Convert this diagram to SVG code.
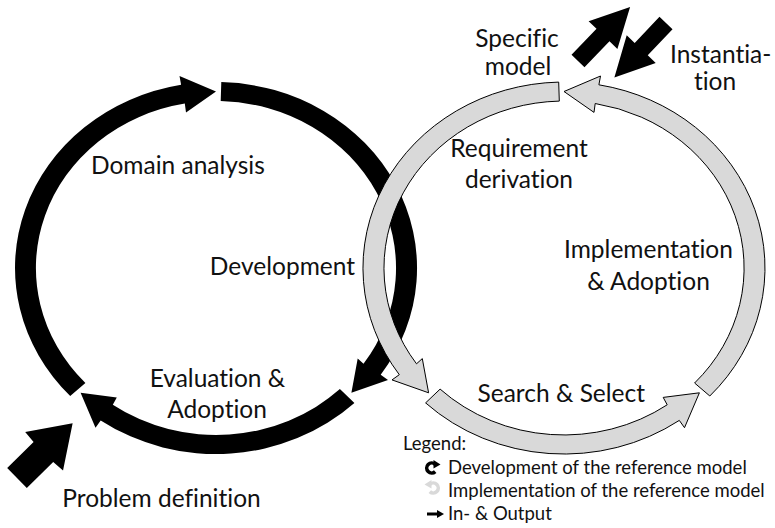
<svg xmlns="http://www.w3.org/2000/svg" width="775" height="528" viewBox="0 0 775 528">
  <style>
    .blk { fill: #000000; }
    .gry { fill: #d9d9d9; stroke: #000000; stroke-width: 1; stroke-linejoin: miter; }
    .lbl { font-family: Lato, "Liberation Sans", sans-serif; font-size: 24.5px; fill: #111111; font-variant-ligatures: none; }
    .mid { text-anchor: middle; }
    .leg { font-family: Lato, "Liberation Sans", sans-serif; font-size: 18.5px; fill: #111111; font-variant-ligatures: none; }
  </style>
  <defs>
    <path id="segA" d="M 70.2 396 A 201 186 0 0 1 181.1 84.8 L 179.5 76 L 216 91.5 L 186 112.4 L 184.8 103.5 A 180 167 0 0 0 85.4 383 Z"/>
    <path id="segB" d="M 221.3 82.1 A 201 186 0 0 1 380.7 374.7 L 388 379.9 L 351.4 392.8 L 357.7 358.6 L 363.5 363.8 A 180 167 0 0 0 220.7 101.1 Z"/>
    <path id="segC" d="M 354.4 402.9 A 201 186 0 0 1 100.7 420.4 L 95.5 427.7 L 80.6 392.8 L 116.8 397.4 L 112.8 404.8 A 180 167 0 0 0 339.9 389.1 Z"/>
    <polygon id="ioBig" points="0,-14 37,-14 38,-27 78,0 38,27 37,14 0,14"/>
    <polygon id="ioSmall" points="0,-9 36,-9 36,-20 75,0 36,20 36,9 0,9"/>
  </defs>

  <!-- Development cycle (black) -->
  <g id="development-cycle">
    <g id="dev-domain-analysis"><use href="#segA" class="blk"/></g>
    <g id="dev-development"><use href="#segB" class="blk"/></g>
    <g id="dev-evaluation"><use href="#segC" class="blk"/></g>
  </g>

  <!-- Implementation cycle (grey), mirror of the black one -->
  <g id="implementation-cycle" transform="matrix(-1 0 0 1 780 0)">
    <g id="impl-implementation"><use href="#segA" class="gry"/></g>
    <g id="impl-requirement"><use href="#segB" class="gry"/></g>
    <g id="impl-search"><use href="#segC" class="gry"/></g>
  </g>

  <!-- In/Output arrows -->
  <g id="io-arrows">
    <use href="#ioBig" class="blk" transform="translate(17,478) rotate(-44.5)"/>
    <use href="#ioSmall" class="blk" transform="translate(578,61) rotate(-46)"/>
    <use href="#ioSmall" class="blk" transform="translate(666,23) rotate(133.5)"/>
  </g>

  <!-- Labels -->
  <g id="labels">
    <g id="lbl-specific-model">
      <text class="lbl mid" x="517" y="47">Specific</text>
      <text class="lbl mid" x="518" y="75">model</text>
    </g>
    <g id="lbl-instantiation">
      <text class="lbl" x="670" y="63">Instantia-</text>
      <text class="lbl mid" x="715" y="90">tion</text>
    </g>
    <g id="lbl-domain-analysis"><text class="lbl" x="91" y="174">Domain analysis</text></g>
    <g id="lbl-development"><text class="lbl" x="355" y="275" text-anchor="end">Development</text></g>
    <g id="lbl-requirement">
      <text class="lbl mid" x="519" y="157">Requirement</text>
      <text class="lbl mid" x="519" y="188">derivation</text>
    </g>
    <g id="lbl-implementation">
      <text class="lbl mid" x="648.5" y="258">Implementation</text>
      <text class="lbl mid" x="648.5" y="290">&amp; Adoption</text>
    </g>
    <g id="lbl-evaluation">
      <text class="lbl mid" x="217.5" y="387">Evaluation &amp;</text>
      <text class="lbl mid" x="217" y="418">Adoption</text>
    </g>
    <g id="lbl-search"><text class="lbl" x="645" y="402" text-anchor="end">Search &amp; Select</text></g>
    <g id="lbl-problem"><text class="lbl mid" x="161.5" y="507">Problem definition</text></g>
  </g>

  <!-- Legend -->
  <g id="legend">
    <text class="leg" x="403" y="450">Legend:</text>
    <g id="legend-dev">
      <path d="M 435.2 464.4 A 5 5 0 1 0 435.2 471.6" fill="none" stroke="#000" stroke-width="3.6"/>
      <polygon points="433.5,460 440.5,464.5 433.5,468.5" fill="#000"/>
      <text class="leg" x="448" y="474">Development of the reference model</text>
    </g>
    <g id="legend-impl">
      <path d="M 429.8 484.4 A 5 5 0 1 1 429.8 491.6" fill="none" stroke="#d9d9d9" stroke-width="3.6"/>
      <polygon points="431.5,480 424.5,484.5 431.5,488.5" fill="#d9d9d9"/>
      <text class="leg" x="448" y="497">Implementation of the reference model</text>
    </g>
    <g id="legend-io">
      <polygon points="427,512.5 437,512.5 437,510 444,514 437,518 437,515.5 427,515.5" fill="#000"/>
      <text class="leg" x="448" y="520">In- &amp; Output</text>
    </g>
  </g>
</svg>
